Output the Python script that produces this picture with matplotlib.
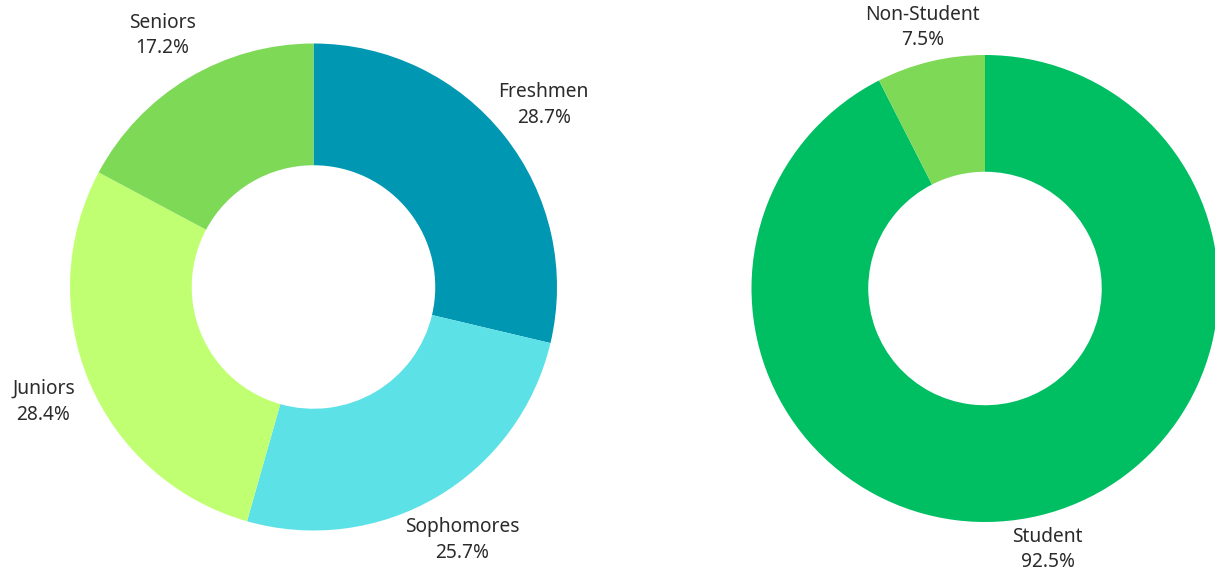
import numpy as np
import matplotlib
matplotlib.use("Agg")
import matplotlib.pyplot as plt

plt.rcParams['font.family'] = ['Noto Sans', 'DejaVu Sans']

class_labels = ["Freshmen", "Sophomores", "Juniors", "Seniors"]
class_values = [28.7, 25.7, 28.4, 17.2]
class_colors = ["#0097B2", "#5CE1E6", "#C1FF72", "#7ED957"]

status_labels = ["Student", "Non-Student"]
status_values = [92.5, 7.5]
status_colors = ["#00BF63", "#7ED957"]

W, H = 1215, 571
fig = plt.figure(figsize=(W / 100, H / 100), dpi=100)


def donut(cx, cy, r, labels, values, colors, label_dist):
    ax = fig.add_axes([(cx - r) / W, (H - cy - r) / H, 2 * r / W, 2 * r / H])
    wedges, _ = ax.pie(values, colors=colors, startangle=90, counterclock=False,
                       radius=1.0, wedgeprops=dict(width=0.5, linewidth=0))
    total = sum(values)
    cum = 0.0
    for lab, v in zip(labels, values):
        mid = 90 - 360 * (cum + v / 2) / total
        cum += v
        x = label_dist * np.cos(np.radians(mid))
        y = label_dist * np.sin(np.radians(mid))
        ax.text(x, y, f"{lab}\n{v:.1f}%", ha="center", va="center",
                fontsize=13.8, color="#2b2b2b", linespacing=1.38, clip_on=False)
    ax.set_xlim(-1, 1)
    ax.set_ylim(-1, 1)
    ax.set_aspect("equal")
    ax.axis("off")
    return ax


donut(313.5, 287, 243.5, class_labels, class_values, class_colors, 1.205)
donut(985, 288.5, 233.5, status_labels, status_values, status_colors, 1.15)

fig.savefig("out.png", dpi=100)
